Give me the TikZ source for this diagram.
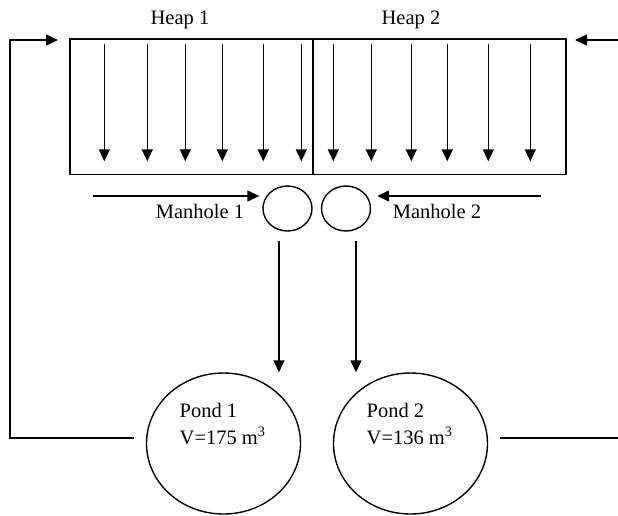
\documentclass[tikz,border=0pt]{standalone}
\usepackage{fontspec}
\setmainfont{Liberation Serif}
\usetikzlibrary{arrows.meta,shapes.geometric,calc}
\begin{document}
\begin{tikzpicture}[x=1pt,y=-1pt,
  line width=1.4pt,
  arr/.style={-{Triangle[length=12pt,width=11pt]}},
  heapbox/.style={draw,rectangle,inner sep=0pt},
  hole/.style={draw,ellipse,inner sep=0pt,minimum width=49pt,minimum height=45pt},
  pond/.style={draw,ellipse,inner sep=0pt,minimum width=154pt,minimum height=141pt},
  lbl/.style={font=\fontsize{20.5}{27}\selectfont,inner sep=0pt,anchor=base},
  plbl/.style={font=\fontsize{20.5}{27}\selectfont,inner sep=0pt,align=left,anchor=base west}]
\useasboundingbox (0,0) rectangle (618,515);
% heaps
\node[heapbox,minimum width=243pt,minimum height=135.5pt] (heap1) at (191.5,106.75) {};
\node[heapbox,minimum width=253pt,minimum height=135.5pt] (heap2) at (439.5,106.75) {};
\node[lbl] (h1l) at (180,24) {Heap 1};
\node[lbl] (h2l) at (411,24) {Heap 2};
\foreach \dx in {35,78,116,153,194,232}
  \draw[arr] ($(heap1.north west)+(\dx,6)$) -- ($(heap1.north west)+(\dx,123)$);
\foreach \dx in {21,59,99,135,176,218}
  \draw[arr] ($(heap2.north west)+(\dx,6)$) -- ($(heap2.north west)+(\dx,123)$);
% manholes
\node[hole] (m1) at (287.5,208.5) {};
\node[hole] (m2) at (346,208.5) {};
\node[lbl] (m1l) at (200,218.3) {Manhole 1};
\node[lbl] (m2l) at (437,218.3) {Manhole 2};
\coordinate (in1) at (93,196);
\coordinate (in2) at (541,196);
\draw[arr,shorten >=3pt] (in1) -- (in1 -| m1.west);
\draw[arr,shorten >=6pt] (in2) -- (in2 -| m2.east);
% ponds
\node[pond] (p1) at (223.5,443.5) {};
\node[pond] (p2) at (410.5,443.5) {};
\node[plbl] (p1l) at (179,444) {Pond 1\\V=175 m\textsuperscript{3}};
\node[plbl] (p2l) at (366,444) {Pond 2\\V=136 m\textsuperscript{3}};
% manhole to pond
\coordinate (d1) at (279,241);
\coordinate (d2) at (356,241);
\draw[arr] (d1) -- (d1 |- p1.north);
\draw[arr] (d2) -- (d2 |- p2.north);
% feedback lines
\coordinate (r1s) at (134,438);
\coordinate (r1c) at (10,438);
\coordinate (r1e) at (58,40);
\draw[arr] (r1s) -- (r1c) |- (r1e);
\coordinate (r2s) at (500,438);
\coordinate (r2e) at (618,438);
\draw (r2s) -- (r2e);
\coordinate (r3s) at (618,40);
\coordinate (r3e) at (575,40);
\draw[arr] (r3s) -- (r3e);
\end{tikzpicture}
\end{document}
